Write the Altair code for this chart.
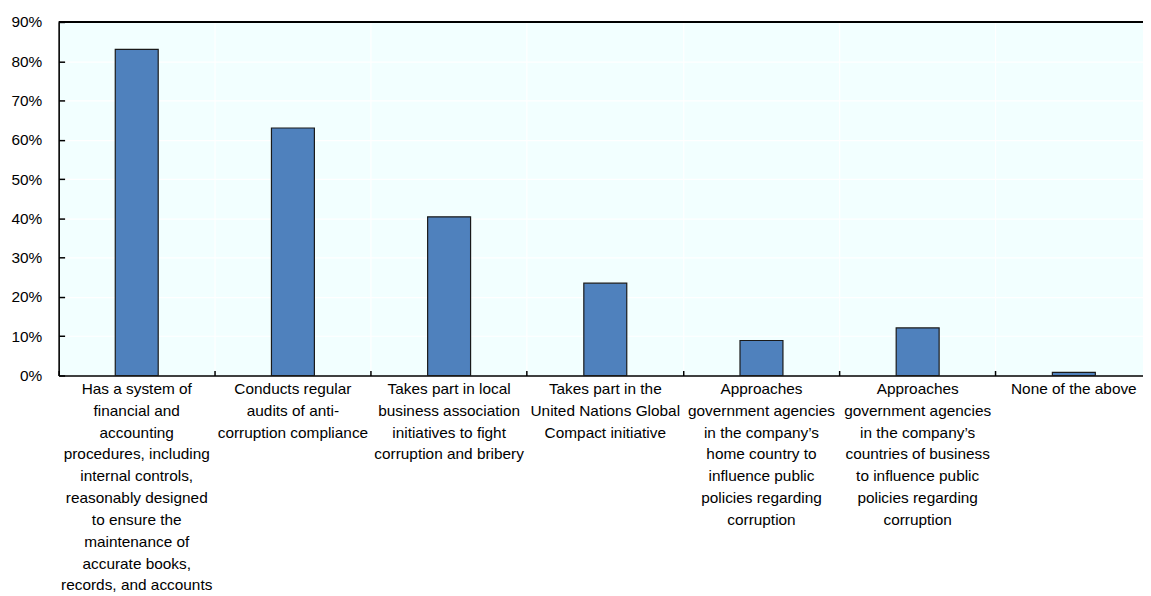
import altair as alt
import pandas as pd

categories = [
    "Has a system of|financial and|accounting|procedures, including|internal controls,|reasonably designed|to ensure the|maintenance of|accurate books,|records, and accounts",
    "Conducts regular|audits of anti-|corruption compliance",
    "Takes part in local|business association|initiatives to fight|corruption and bribery",
    "Takes part in the|United Nations Global|Compact initiative",
    "Approaches|government agencies|in the company\u2019s|home country to|influence public|policies regarding|corruption",
    "Approaches|government agencies|in the company\u2019s|countries of business|to influence public|policies regarding|corruption",
    "None of the above",
]
values = [83.0, 63.0, 40.4, 23.5, 8.9, 12.1, 0.8]
y_ticks = [0, 10, 20, 30, 40, 50, 60, 70, 80, 90]

df = pd.DataFrame({"cat": categories, "val": values})

FONT = "Liberation Sans"
FS = 15.5

x_main = alt.X(
    "cat:N",
    sort=categories,
    scale=alt.Scale(paddingInner=0, paddingOuter=0),
    axis=alt.Axis(
        orient="bottom",
        title=None,
        labelAngle=0,
        labelExpr="split(datum.label, '|')",
        labelLineHeight=22,
        labelPadding=6,
        labelBaseline="top",
        labelFont=FONT,
        labelFontSize=FS,
        labelColor="#000000",
        labelLimit=0,
        ticks=False,
        domain=True,
        domainColor="#000000",
        domainWidth=1.6,
        grid=True,
        gridColor="#FFFFFF",
        gridWidth=1.2,
        bandPosition=0,
    ),
)
y_main = alt.Y(
    "val:Q",
    scale=alt.Scale(domain=[0, 90]),
    axis=alt.Axis(
        orient="left",
        title=None,
        values=y_ticks,
        labelExpr="datum.value + '%'",
        labelFont=FONT,
        labelFontSize=FS,
        labelColor="#000000",
        labelPadding=17,
        ticks=False,
        domain=True,
        domainColor="#000000",
        domainWidth=1.6,
        grid=True,
        gridColor="#FFFFFF",
        gridWidth=1.2,
    ),
)

bars = alt.Chart(df).mark_bar(
    width={"band": 0.275},
    color="#4F81BD",
    stroke="#1a1a1a",
    strokeWidth=1.2,
).encode(x=x_main, y=y_main)

x_ticks = alt.X(
    "cat:N",
    sort=categories,
    scale=alt.Scale(paddingInner=0, paddingOuter=0),
    axis=alt.Axis(
        orient="bottom",
        title=None,
        labels=False,
        domain=False,
        grid=False,
        ticks=True,
        tickSize=5,
        tickWidth=1.5,
        tickColor="#000000",
        offset=-5,
        bandPosition=0,
    ),
)
y_ticks_axis = alt.Y(
    "val:Q",
    scale=alt.Scale(domain=[0, 90]),
    axis=alt.Axis(
        orient="left",
        title=None,
        values=y_ticks,
        labels=False,
        domain=False,
        grid=False,
        ticks=True,
        tickSize=6,
        tickWidth=1.5,
        tickColor="#000000",
        offset=-6,
    ),
)

ticks_layer = alt.Chart(df).mark_bar(opacity=0).encode(x=x_ticks, y=y_ticks_axis)

top_rule = alt.Chart(pd.DataFrame({"top": [90]})).mark_rule(
    color="#000000", strokeWidth=2
).encode(y=alt.Y("top:Q", scale=alt.Scale(domain=[0, 90]), axis=None))

chart = (
    alt.layer(bars, ticks_layer, top_rule)
    .resolve_axis(x="independent", y="independent")
    .properties(
        width=1101,
        height=356,
        autosize=alt.AutoSizeParams(type="none"),
        padding={"left": 51, "top": 12, "right": -9, "bottom": 220},
    )
    .configure_view(fill="#F2FFFF", stroke=None)
)

chart.save("out.html", embed_options={"renderer": "svg", "actions": False})
